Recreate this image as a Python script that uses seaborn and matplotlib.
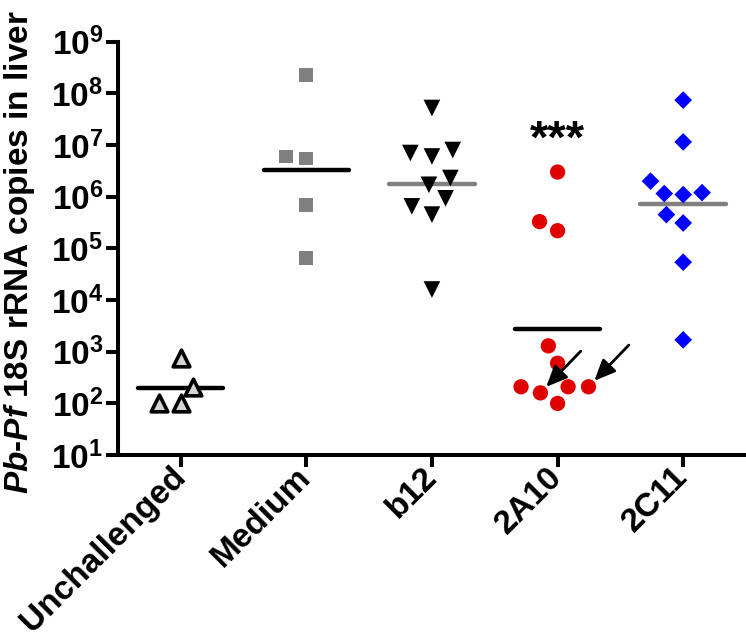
import numpy as np
import pandas as pd
import matplotlib
matplotlib.use('Agg')
import matplotlib.pyplot as plt
from matplotlib.ticker import LogLocator, NullLocator, FuncFormatter
import seaborn as sns

# liver parasite burden, 18S rRNA copies per mouse
groups = ['Unchallenged', 'Medium', 'b12', '2A10', '2C11']
unchallenged = [750, 210, 100, 100]
medium = [2.3e8, 6.0e6, 5.5e6, 7.0e5, 6.6e4]
b12 = [5.2e7, 8.0e6, 7.0e6, 6.0e6, 2.3e6, 1.7e6, 9.3e5, 6.5e5, 4.5e5, 1.6e4]
mab_2a10 = [3.0e6, 3.3e5, 2.2e5, 1300, 600, 210, 210, 210, 160, 100]
mab_2c11 = [7.4e7, 1.15e7, 2.0e6, 1.2e6, 1.15e6, 1.1e6, 4.5e5, 3.1e5, 5.4e4, 1.7e3]
values = [unchallenged, medium, b12, mab_2a10, mab_2c11]
flagged_2a10 = [210, 160]  # mice marked with arrows
signif_2a10 = '***'

# solid markers get a thin invisible rim so the swarm spreads a little like the original
styles = {
    'Unchallenged': dict(marker='^', color='#d4d4d4', edge='black', lw=2.6, size=12, line='black'),
    'Medium': dict(marker='s', color='#808080', edge='none', lw=4, size=10, line='black'),
    'b12': dict(marker='v', color='black', edge='none', lw=3, size=12, line='#808080'),
    '2A10': dict(marker='o', color='#e00000', edge='none', lw=3, size=11, line='black'),
    '2C11': dict(marker='D', color='#0000ff', edge='none', lw=4, size=9, line='#808080'),
}

sns.set_theme(style='ticks')
plt.rcParams['font.family'] = ['Liberation Sans', 'DejaVu Sans']
plt.rcParams['mathtext.fontset'] = 'custom'
plt.rcParams['mathtext.rm'] = 'Liberation Sans:bold'
plt.rcParams['mathtext.bf'] = 'Liberation Sans:bold'
plt.rcParams['mathtext.it'] = 'Liberation Sans:bold:italic'
for k in ['text.color', 'axes.labelcolor', 'xtick.color', 'ytick.color', 'axes.edgecolor']:
    plt.rcParams[k] = 'black'

fig = plt.figure(figsize=(7.46, 6.41), dpi=100)
ax = fig.add_axes([0.158, 0.29, 0.842, 0.645])
ax.set_yscale('log')

colls = {}
for g, vals in zip(groups, values):
    st = styles[g]
    sub = pd.DataFrame({'group': g, 'copies': vals})
    n0 = len(ax.collections)
    sns.swarmplot(data=sub, x='group', y='copies', order=groups, ax=ax,
                  marker=st['marker'], color=st['color'], edgecolor=st['edge'],
                  linewidth=st['lw'], size=st['size'], zorder=3, warn_thresh=1)
    colls[g] = ax.collections[n0:]

# geometric mean bars
for i, (g, vals) in enumerate(zip(groups, values)):
    gm = 10 ** np.mean(np.log10(vals))
    ax.hlines(gm, i - 0.34, i + 0.34, color=styles[g]['line'], lw=3.2,
              zorder=2, capstyle='round')

ax.set_xlim(-0.5, 4.5)
ax.set_ylim(10, 1e9)
ax.yaxis.set_major_locator(LogLocator(base=10, numticks=20))
ax.yaxis.set_minor_locator(NullLocator())
ax.yaxis.set_major_formatter(FuncFormatter(lambda v, p: r'$\mathbf{10^{%d}}$' % round(np.log10(v))))

sns.despine(ax=ax)
for s in ['left', 'bottom']:
    ax.spines[s].set_linewidth(2.9)
    ax.spines[s].set_color('black')
ax.tick_params(axis='both', width=2.9, length=8.5, color='black', labelcolor='black',
               labelsize=24, pad=2)
ax.tick_params(axis='x', pad=4)
ax.set_xlabel('')
for lab in ax.get_xticklabels():
    lab.set_rotation(45)
    lab.set_ha('right')
    lab.set_va('center')
    lab.set_rotation_mode('anchor')
    lab.set_fontweight('bold')
    lab.set_fontsize(24)

ax.set_ylabel(r'$\mathit{Pb}$-$\mathit{Pf}$ 18S rRNA copies in liver', fontsize=24,
              fontweight='bold', color='black')
ax.yaxis.set_label_coords(-0.128, 0.49)

# significance stars over 2A10
ax.text(3, 1.2e7, signif_2a10, ha='center', va='center', fontsize=34, fontweight='bold')

# arrows on flagged 2A10 mice (positions taken from the drawn swarm)
fig.canvas.draw()
pts = []
for c in colls['2A10']:
    off = np.asarray(c.get_offsets())
    if len(off):
        disp = c.get_offset_transform().transform(off)
        pts.append(ax.transData.inverted().transform(disp))
pts = np.vstack(pts)
for v in flagged_2a10:
    cand = pts[np.isclose(pts[:, 1], v, rtol=1e-3)]
    if len(cand) == 0:
        cand = pts[np.argsort(np.abs(np.log10(pts[:, 1]) - np.log10(v)))[:1]]
    x, y = cand[np.argmax(cand[:, 0])]
    ax.annotate('', xy=(x, y), xytext=(29, 30), textcoords='offset points',
                arrowprops=dict(arrowstyle='-|>,head_length=0.8,head_width=0.35',
                                color='black', lw=2.0, mutation_scale=16,
                                shrinkA=0, shrinkB=6))

fig.savefig('out.png', dpi=100)
